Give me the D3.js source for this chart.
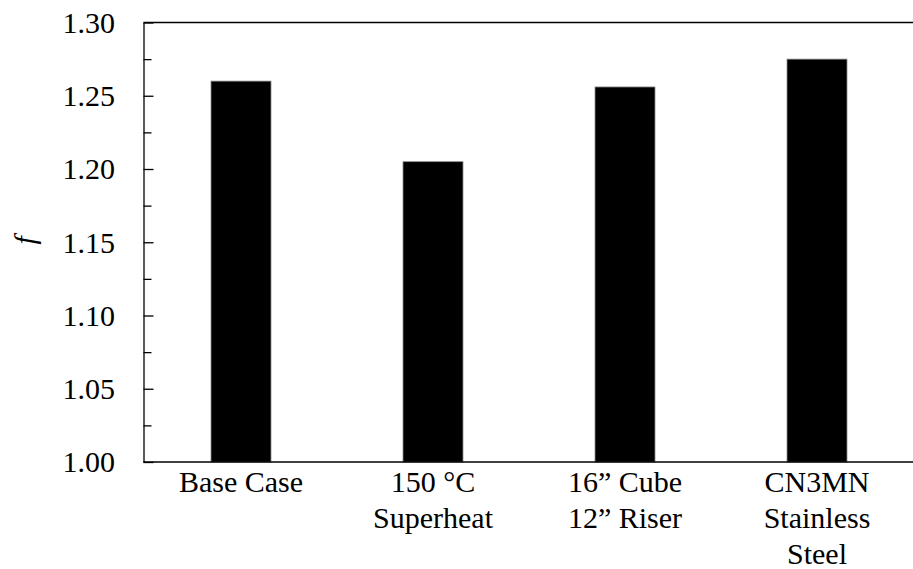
<!DOCTYPE html>
<html>
<head>
<meta charset="utf-8">
<script src="https://cdn.jsdelivr.net/npm/d3@7"></script>
<style>
	body { margin: 0; background: #fff; }
	svg text { font-family: 'Liberation Serif', serif; fill: #000; }
</style>
</head>
<body>
<div id="chart"></div>
<script>
var categories = [
	['Base Case'],
	['150 \u00B0C', 'Superheat'],
	['16\u201D Cube', '12\u201D Riser'],
	['CN3MN', 'Stainless', 'Steel']
];
var values = [1.260, 1.205, 1.256, 1.275];
var majorTicks = [1.00, 1.05, 1.10, 1.15, 1.20, 1.25, 1.30];
var minorTicks = [1.025, 1.075, 1.125, 1.175, 1.225, 1.275];

var serif = "'Liberation Serif', serif";
var width = 913, height = 569;
var margin = {top: 22.5, right: 0, bottom: 107, left: 143.5};
var innerW = width - margin.left - margin.right;
var innerH = height - margin.top - margin.bottom;

var svg = d3.select('#chart')
	.append('svg')
	.attr('width', width)
	.attr('height', height)
	.attr('font-family', serif);

var g = svg.append('g')
	.attr('transform', 'translate(' + margin.left + ',' + margin.top + ')');

var x = d3.scaleBand()
	.domain(d3.range(categories.length))
	.range([1.5, innerW])
	.paddingInner(0.6875)
	.paddingOuter(0.34375);

var y = d3.scaleLinear().domain([1.00, 1.30]).range([innerH, 0]);

// bars
g.selectAll('.bar')
	.data(values)
	.enter()
	.append('rect')
	.attr('class', 'bar')
	.attr('x', function(d, i) { return x(i); })
	.attr('width', x.bandwidth())
	.attr('y', function(d) { return y(d); })
	.attr('height', function(d) { return innerH - y(d); })
	.style('fill', '#000')
	.style('stroke', '#8a8a8a')
	.style('stroke-width', 0.8);

// frame lines (top and bottom)
g.append('line')
	.attr('x1', 0).attr('x2', innerW)
	.attr('y1', 0).attr('y2', 0)
	.style('stroke', '#000').style('stroke-width', 1.3);
g.append('line')
	.attr('x1', 0).attr('x2', innerW)
	.attr('y1', innerH).attr('y2', innerH)
	.style('stroke', '#000').style('stroke-width', 1.3);

// y axis, ticks inside
var yAxis = g.append('g')
	.call(d3.axisLeft(y)
		.tickValues(majorTicks)
		.tickSizeInner(-10)
		.tickSizeOuter(0)
		.tickPadding(28.5)
		.tickFormat(d3.format('.2f')));
yAxis.attr('font-family', serif).attr('font-size', 30);
yAxis.select('.domain').style('stroke-width', 1.3);
yAxis.selectAll('.tick line').style('stroke-width', 1.3);
yAxis.selectAll('.tick text').attr('dy', '0.33em');

g.append('g')
	.call(d3.axisLeft(y)
		.tickValues(minorTicks)
		.tickSizeInner(-8)
		.tickSizeOuter(0)
		.tickFormat(''))
	.call(function(a) {
		a.select('.domain').remove();
		a.selectAll('.tick line').style('stroke-width', 1.3);
	});

// category labels
var labels = g.selectAll('.cat')
	.data(categories)
	.enter()
	.append('text')
	.attr('class', 'cat')
	.attr('x', function(d, i) { return x(i) + x.bandwidth() / 2; })
	.attr('y', innerH + 30)
	.attr('text-anchor', 'middle')
	.attr('font-size', 30);

labels.selectAll('tspan')
	.data(function(d) { return d; })
	.enter()
	.append('tspan')
	.attr('x', function() { return this.parentNode.getAttribute('x'); })
	.attr('dy', function(d, i) { return i === 0 ? 0 : 36; })
	.text(function(d) { return d; });

// y axis title
svg.append('text')
	.attr('transform', 'translate(35,' + (margin.top + innerH / 2 - 2) + ') rotate(-90)')
	.attr('text-anchor', 'middle')
	.attr('font-style', 'italic')
	.attr('font-size', 30)
	.text('f');
</script>
</body>
</html>
